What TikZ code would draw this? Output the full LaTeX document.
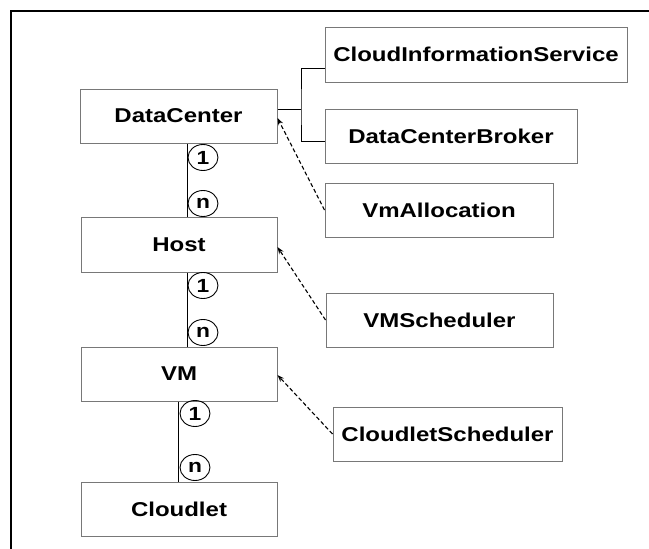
\documentclass[tikz,border=0pt]{standalone}
\usepackage{fontspec}
\newfontfamily\labfont{Liberation Sans}[FakeStretch=1.2]
\usetikzlibrary{arrows.meta,shapes.geometric}
\definecolor{boxgray}{RGB}{120,120,120}
\tikzset{
  box/.style={draw=boxgray, line width=1pt, rectangle, inner sep=0pt, minimum height=54pt,
    font=\labfont\bfseries\fontsize{20}{23}\selectfont, text=black},
  mult/.style={draw=black, line width=0.9pt, ellipse, inner sep=0pt, minimum width=30pt, minimum height=26pt,
    font=\labfont\bfseries\fontsize{19}{22}\selectfont},
  link/.style={draw=black, line width=0.9pt},
  dep/.style={draw=black, line width=1.1pt, dash pattern=on 4pt off 2.5pt, -{Stealth[length=7pt,width=5pt]}},
  frame/.style={draw=black, line width=1.6pt}
}
\begin{document}
\begin{tikzpicture}[x=1pt,y=-1pt]
\useasboundingbox (0,0) rectangle (649,549);
\fill[white] (0,0) rectangle (649,549);
\draw[frame] (652,11) -- (11,11) -- (11,552);

\node[box, minimum width=197pt] (dc) at (178.5,116) {DataCenter};
\node[box, minimum width=196pt, minimum height=55pt] (host) at (179,244.5) {Host};
\node[box, minimum width=196pt] (vm) at (179,374) {VM};
\node[box, minimum width=196pt] (cl) at (179,509) {Cloudlet};

\node[box, minimum width=302pt, minimum height=55pt] (cis) at (476,54.5) {CloudInformationService};
\node[box, minimum width=252pt] (dcb) at (451,136) {DataCenterBroker};
\node[box, minimum width=228pt] (vma) at (439,210) {VmAllocation};
\node[box, minimum width=227pt] (vms) at (439.5,320) {VMScheduler};
\node[box, minimum width=229pt] (cs) at (447.5,434) {CloudletScheduler};

% aggregation tree
\coordinate (j) at (301,109);
\draw[link] ([yshift=7pt]dc.east) -- (j);
\draw[link] ([yshift=-13.5pt]cis.west) -| (j) |- ([yshift=-5pt]dcb.west);

% 1..n links
\draw[link] ([xshift=8.5pt]dc.south) -- ([xshift=8pt]host.north);
\draw[link] ([xshift=8pt]host.south) -- ([xshift=8pt]vm.north);
\draw[link] ([xshift=-1pt]vm.south) -- ([xshift=-1pt]cl.north);

\node[mult] (m1) at ([xshift=24.5pt,yshift=-14pt]dc.south) {1};
\node[mult] (m2) at ([xshift=24pt,yshift=13pt]host.north) {n};
\node[mult] (m3) at ([xshift=24pt,yshift=-13pt]host.south) {1};
\node[mult] (m4) at ([xshift=24pt,yshift=14pt]vm.north) {n};
\node[mult] (m5) at ([xshift=16pt,yshift=-12pt]vm.south) {1};
\node[mult] (m6) at ([xshift=16pt,yshift=14pt]cl.north) {n};

% dependencies
\draw[dep] (vma.west) -- ([yshift=-2pt]dc.east);
\draw[dep] (vms.west) -- ([yshift=-2.5pt]host.east);
\draw[dep] (cs.west) -- ([yshift=-1pt]vm.east);
\end{tikzpicture}
\end{document}
